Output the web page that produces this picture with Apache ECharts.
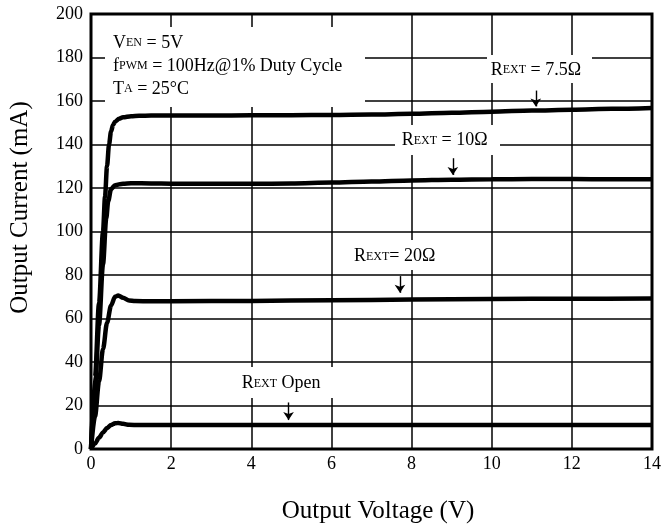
<!DOCTYPE html>
<html>
<head>
<meta charset="utf-8">
<script src="https://cdn.jsdelivr.net/npm/echarts@6/dist/echarts.min.js"></script>
<style>html,body{margin:0;padding:0;background:#fff}#c{width:664px;height:530px}</style>
</head>
<body>
<div id="c"></div>
<script>
// ---- data ----
const r75V = [0,0.1,0.2,0.3,0.35,0.4,0.45,0.5,0.55,0.6,0.7,0.8,1.0,1.2,1.5,2,3,4,5,6,7,8,9,10,11,12,13,14];
const r75I = [0,33,67,100,116,130,140,146,149,150.5,151.8,152.5,153,153.2,153.3,153.3,153.3,153.4,153.5,153.6,153.8,154.1,154.6,155.1,155.6,156,156.4,156.8];
const r10V = [0,0.1,0.2,0.3,0.38,0.43,0.5,0.6,0.8,1,1.5,2,3,4,5,6,7,8,9,10,11,12,13,14];
const r10I = [0,28,57,85,106,114,119.5,121.3,122,122.2,122.1,122,121.9,121.9,122.1,122.5,123,123.5,123.8,124,124.1,124.1,124,124];
const r20V = [0,0.1,0.2,0.3,0.4,0.5,0.6,0.68,0.8,0.95,1.1,1.5,2,4,6,8,10,12,14];
const r20I = [0,15,31,46,58,66,70,70.6,69.5,68.3,68,67.9,67.9,68.1,68.4,68.7,69,69.1,69.2];
const openV = [0,0.1,0.2,0.3,0.4,0.5,0.6,0.68,0.8,0.95,1.2,2,4,6,8,10,12,14];
const openI = [0,2.5,5.2,7.6,9.6,11,11.8,12,11.6,11.1,11,11,11,11,11,11,11,11];
// arrows: [x, yStart, yEnd]
const arrow75 = [11.1, 164.8, 157.5];
const arrow10 = [9.03, 133.7, 126];
const arrow20 = [7.71, 79.5, 71.8];
const arrowOpen = [4.93, 21.4, 13.3];

const xName = 'Output Voltage (V)';
const yName = 'Output Current (mA)';

const zip = (xs, ys) => xs.map((x, i) => [x, ys[i]]);
const FONT = '"Liberation Serif","Times New Roman",serif';

function mkSeries(name, xs, ys, arr) {
  return {
    name, type: 'line', data: zip(xs, ys), symbol: 'none',
    smooth: 0.3, smoothMonotone: 'x',
    lineStyle: { color: '#000', width: 4.5 },
    z: 3,
    markLine: {
      silent: true, symbol: ['none', 'arrow'], symbolSize: 8,
      label: { show: false },
      lineStyle: { color: '#000', width: 1.4, type: 'solid' },
      data: [[{ coord: [arr[0], arr[1]] }, { coord: [arr[0], arr[2]] }]]
    }
  };
}

const rich = {
  m: { fontFamily: FONT, fontSize: 18, color: '#000' },
  s: { fontFamily: FONT, fontSize: 12, color: '#000' }
};
function txt(text, x, y) {
  return { type: 'text', z: 20, style: { text, x, y, rich, verticalAlign: 'middle', align: 'left', fill: '#000' } };
}
function box(x, y, w, h) {
  return { type: 'rect', z: 19, shape: { x, y, width: w, height: h }, style: { fill: '#fff' } };
}

const chart = echarts.init(document.getElementById('c'));
chart.setOption({
  animation: false,
  backgroundColor: '#fff',
  grid: { left: 91, right: 10, top: 14, bottom: 81, show: true, borderColor: '#000', borderWidth: 3, containLabel: false },
  xAxis: {
    type: 'value', min: 0, max: 14, interval: 2,
    name: xName, nameLocation: 'middle', nameGap: 50,
    nameTextStyle: { fontFamily: FONT, fontSize: 25, color: '#000', padding: [0, 0, 0, 13] },
    axisLine: { show: false }, axisTick: { show: false },
    axisLabel: { fontFamily: FONT, fontSize: 18, color: '#000', margin: 6 },
    splitLine: { show: true, lineStyle: { color: '#000', width: 1.5 } }
  },
  yAxis: {
    type: 'value', min: 0, max: 200, interval: 20,
    name: yName, nameLocation: 'middle', nameGap: 58,
    nameTextStyle: { fontFamily: FONT, fontSize: 25, color: '#000', padding: [0, 0, 0, 48] },
    axisLine: { show: false }, axisTick: { show: false },
    axisLabel: { fontFamily: FONT, fontSize: 18, color: '#000', margin: 8 },
    splitLine: { show: true, lineStyle: { color: '#000', width: 1.5 } }
  },
  series: [
    mkSeries('REXT = 7.5Ω', r75V, r75I, arrow75),
    mkSeries('REXT = 10Ω', r10V, r10I, arrow10),
    mkSeries('REXT = 20Ω', r20V, r20I, arrow20),
    mkSeries('REXT Open', openV, openI, arrowOpen)
  ],
  graphic: [
    box(105, 27, 260, 80),
    txt('{m|V}{s|EN}{m| = 5V}', 113, 43),
    txt('{m|f}{s|PWM}{m| = 100Hz@1% Duty Cycle}', 113, 66),
    txt('{m|T}{s|A}{m| = 25°C}', 113, 89),
    box(487, 55, 105, 28),
    txt('{m|R}{s|EXT}{m| = 7.5Ω}', 490.7, 70),
    box(395, 125, 105, 30),
    txt('{m|R}{s|EXT}{m| = 10Ω}', 401.7, 140.5),
    box(345, 240, 100, 30),
    txt('{m|R}{s|EXT}{m|= 20Ω}', 354, 256.7),
    box(235, 367, 105, 31),
    txt('{m|R}{s|EXT}{m| Open}', 241.7, 383.7)
  ]
});
</script>
</body>
</html>
